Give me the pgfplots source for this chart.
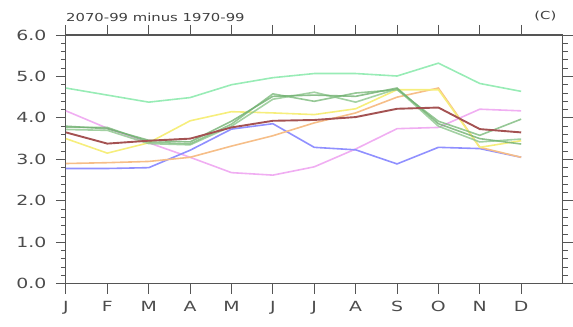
\documentclass[border=0pt]{standalone}
\usepackage{pgfplots}
\pgfplotsset{compat=1.18}
\usepackage{fontspec}
\setmainfont{DejaVu Sans}
\newfontfamily\widefont[FakeStretch=1.35]{DejaVu Sans}
\definecolor{cmint}{HTML}{98ECB6}
\definecolor{cblue}{HTML}{9090FF}
\definecolor{cpink}{HTML}{F0AEF2}
\definecolor{cyel}{HTML}{F6EE7C}
\definecolor{corg}{HTML}{F6BE88}
\definecolor{cbrown}{HTML}{A45252}
\definecolor{cg1}{HTML}{7CBA7C}
\definecolor{cg2}{HTML}{8CC68C}
\definecolor{cg3}{HTML}{70B070}
\definecolor{caxis}{HTML}{555555}
\begin{document}
\begin{tikzpicture}
\begin{axis}[
  scale only axis, width=497pt, height=249pt,
  xmin=1, xmax=13, ymin=0, ymax=6,
  xtick={1,...,12},
  xticklabels={J,F,M,A,M,J,J,A,S,O,N,D},
  ytick={0,1,2,3,4,5,6},
  yticklabel={\pgfmathprintnumber[fixed,fixed zerofill,precision=1]{\tick}},
  /pgf/number format/assume math mode=true,
  minor y tick num=4,
  tick align=outside,
  xtick pos=both, ytick pos=both,
  major tick length=10pt, minor tick length=5pt,
  axis line style={caxis, line width=1.1pt},
  every tick/.style={caxis, line width=0.9pt},
  tick label style={text=black!70, font=\widefont\fontsize{14}{14}\selectfont},
  xticklabel style={yshift=-4pt},
  yticklabel style={xshift=-6pt},
  clip=false,
]
\addplot[cmint, line width=1.6pt] coordinates {(1,4.72)(2,4.55)(3,4.38)(4,4.49)(5,4.8)(6,4.97)(7,5.07)(8,5.07)(9,5.01)(10,5.32)(11,4.83)(12,4.64)};
\addplot[cpink, line width=1.6pt] coordinates {(1,4.17)(2,3.75)(3,3.4)(4,3.05)(5,2.68)(6,2.62)(7,2.82)(8,3.25)(9,3.74)(10,3.77)(11,4.21)(12,4.17)};
\addplot[cblue, line width=1.6pt] coordinates {(1,2.78)(2,2.78)(3,2.8)(4,3.22)(5,3.73)(6,3.86)(7,3.29)(8,3.23)(9,2.89)(10,3.29)(11,3.26)(12,3.05)};
\addplot[corg, line width=1.6pt] coordinates {(1,2.9)(2,2.92)(3,2.95)(4,3.05)(5,3.32)(6,3.57)(7,3.88)(8,4.12)(9,4.5)(10,4.72)(11,3.29)(12,3.05)};
\addplot[cyel, line width=1.6pt] coordinates {(1,3.5)(2,3.15)(3,3.4)(4,3.93)(5,4.15)(6,4.12)(7,4.08)(8,4.22)(9,4.68)(10,4.68)(11,3.29)(12,3.45)};
\addplot[cg1, line width=1.6pt, opacity=0.8] coordinates {(1,3.77)(2,3.77)(3,3.42)(4,3.37)(5,3.85)(6,4.58)(7,4.4)(8,4.6)(9,4.68)(10,3.92)(11,3.58)(12,3.97)};
\addplot[cg2, line width=1.6pt, opacity=0.8] coordinates {(1,3.72)(2,3.7)(3,3.38)(4,3.35)(5,3.8)(6,4.45)(7,4.62)(8,4.38)(9,4.7)(10,3.8)(11,3.42)(12,3.49)};
\addplot[cg3, line width=1.6pt, opacity=0.8] coordinates {(1,3.8)(2,3.74)(3,3.46)(4,3.42)(5,3.92)(6,4.52)(7,4.55)(8,4.52)(9,4.72)(10,3.86)(11,3.5)(12,3.37)};
\addplot[cbrown, line width=1.9pt] coordinates {(1,3.65)(2,3.38)(3,3.45)(4,3.5)(5,3.77)(6,3.93)(7,3.95)(8,4.02)(9,4.22)(10,4.25)(11,3.73)(12,3.65)};
\node[anchor=west, inner sep=0pt, text=black!75, font=\widefont\fontsize{11}{11}\selectfont] at ([yshift=18pt]rel axis cs:0,1) {2070-99 minus 1970-99};
\node[anchor=east, inner sep=0pt, text=black!75, font=\widefont\fontsize{11}{11}\selectfont] at ([yshift=19pt,xshift=-6pt]rel axis cs:1,1) {(C)};
\end{axis}
\path (current axis.south west) ++(-66pt,-43pt) coordinate (bl);
\path (current axis.north east) ++(10pt,35pt) coordinate (tr);
\useasboundingbox (bl) rectangle (tr);
\end{tikzpicture}
\end{document}
